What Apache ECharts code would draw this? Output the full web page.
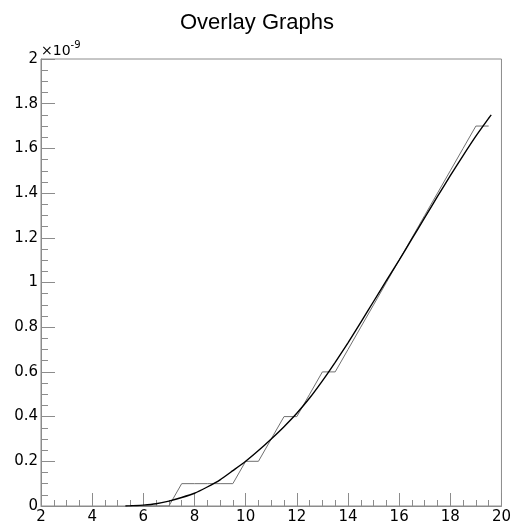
<!DOCTYPE html>
<html>
<head>
<meta charset="utf-8">
<script src="https://cdn.jsdelivr.net/npm/echarts@6/dist/echarts.min.js"></script>
<style>
  html, body { margin: 0; padding: 0; background: #fff; }
  #chart { width: 514px; height: 527px; }
</style>
</head>
<body>
<div id="chart"></div>
<script>
// values in units of 1e-9 (axis shows x10^-9)
const curveX = [5.3, 5.5, 6, 6.5, 7, 7.5, 8, 8.5, 9, 9.5, 10, 10.5, 11, 11.5, 12, 12.5, 13, 13.5, 14, 14.5, 15, 15.5, 16, 16.5, 17, 17.5, 18, 18.5, 19, 19.5, 19.6];
const curveY = [0, 0.001, 0.004, 0.01, 0.022, 0.038, 0.057, 0.085, 0.117, 0.158, 0.2, 0.248, 0.3, 0.355, 0.415, 0.483, 0.56, 0.643, 0.73, 0.822, 0.915, 1.008, 1.1, 1.195, 1.29, 1.385, 1.478, 1.568, 1.655, 1.735, 1.75];

const stepX = [5.5, 6, 6.5, 7, 7.5, 8, 8.5, 9, 9.5, 10, 10.5, 11, 11.5, 12, 12.5, 13, 13.5, 14, 14.5, 15, 15.5, 16, 16.5, 17, 17.5, 18, 18.5, 19, 19.5];
const stepY = [0, 0, 0, 0, 0.1, 0.1, 0.1, 0.1, 0.1, 0.2, 0.2, 0.3, 0.4, 0.4, 0.5, 0.6, 0.6, 0.7, 0.8, 0.9, 1.0, 1.1, 1.2, 1.3, 1.4, 1.5, 1.6, 1.7, 1.7];

const chart = echarts.init(document.getElementById('chart'));
const titleFont = 'Liberation Sans, Helvetica, Arial, sans-serif';
const font = 'DejaVu Sans, sans-serif';
const axisGray = '#8c8c8c';

chart.setOption({
    backgroundColor: '#fff',
    animation: false,
    title: {
        text: 'Overlay Graphs',
        left: 'center',
        top: 7,
        textStyle: { fontSize: 22, fontWeight: 'normal', color: '#000', fontFamily: titleFont }
    },
    grid: {
        left: 41, right: 10, top: 59, bottom: 21,
        show: true,
        borderColor: axisGray,
        borderWidth: 1
    },
    xAxis: {
        type: 'value',
        min: 2, max: 20, interval: 2,
        axisLine: { show: true, onZero: false, lineStyle: { color: axisGray } },
        axisTick: { show: true, inside: true, length: 13, lineStyle: { color: axisGray } },
        minorTick: { show: true, splitNumber: 4, length: 6, lineStyle: { color: axisGray } },
        splitLine: { show: false },
        axisLabel: { color: '#000', fontSize: 15, fontFamily: font, margin: 4 }
    },
    yAxis: {
        type: 'value',
        min: 0, max: 2, interval: 0.2,
        axisLine: { show: true, lineStyle: { color: axisGray } },
        axisTick: { show: true, inside: true, length: 14, lineStyle: { color: axisGray } },
        minorTick: { show: true, splitNumber: 4, length: 7, lineStyle: { color: axisGray } },
        splitLine: { show: false },
        axisLabel: { color: '#000', fontSize: 15, fontFamily: font, margin: 3 }
    },
    graphic: [{
        type: 'text',
        left: 41, top: 40,
        style: {
            text: '{a|×10}{b|-9}',
            rich: {
                a: { fontSize: 14, fontFamily: font, fill: '#000', verticalAlign: 'bottom' },
                b: { fontSize: 10, fontFamily: font, fill: '#000', verticalAlign: 'top', padding: [0, 0, 8, 0] }
            }
        }
    }],
    series: [
        {
            type: 'line',
            data: stepX.map((x, i) => [x, stepY[i]]),
            symbol: 'none',
            lineStyle: { color: '#707070', width: 1 },
            z: 2
        },
        {
            type: 'line',
            data: curveX.map((x, i) => [x, curveY[i]]),
            symbol: 'none',
            smooth: 0.2,
            lineStyle: { color: '#000', width: 1.4 },
            z: 3
        }
    ]
});
</script>
</body>
</html>
